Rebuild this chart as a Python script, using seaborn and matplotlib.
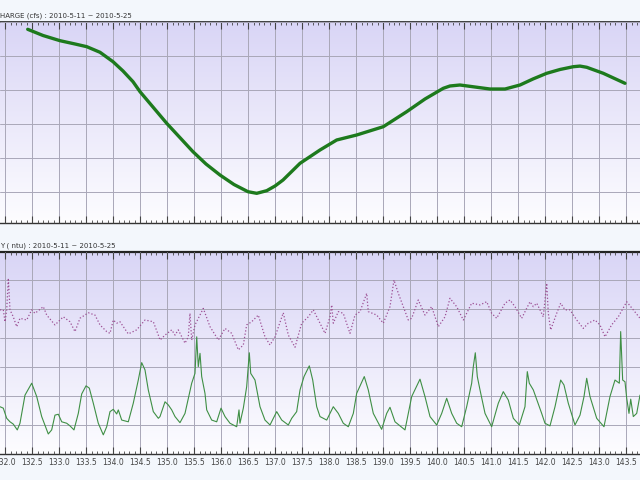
import numpy as np
import pandas as pd
import matplotlib
matplotlib.use('Agg')
import matplotlib.pyplot as plt
from matplotlib.colors import LinearSegmentedColormap
from matplotlib.ticker import MultipleLocator, FormatStrFormatter
import seaborn as sns

# 流量 (上图)
q_day = [132.415, 132.698, 133.013, 133.291, 133.508, 133.754, 133.995, 134.18, 134.365, 134.495,
         134.989, 135.476, 135.717, 135.976, 136.235, 136.495, 136.656, 136.841, 136.995, 137.143,
         137.458, 137.828, 138.137, 138.507, 139.0, 139.433, 139.772, 140.111, 140.235, 140.42,
         140.976, 141.254, 141.532, 141.772, 142.026, 142.272, 142.519, 142.643, 142.767, 143.074,
         143.476]
q_cfs = [1678.5, 1660.3, 1645.0, 1635.3, 1627.4, 1610.9, 1583.2, 1555.9, 1524.4, 1495.0,
         1402.1, 1318.5, 1282.4, 1250.0, 1222.1, 1200.9, 1196.2, 1203.9, 1217.7, 1235.3,
         1284.4, 1323.6, 1353.0, 1367.7, 1392.1, 1436.2, 1473.5, 1505.0, 1511.8, 1514.7,
         1502.9, 1502.9, 1514.7, 1532.4, 1549.1, 1560.3, 1568.5, 1570.3, 1566.8, 1549.1,
         1519.7]

# 浊度 (下图) 绿色实线
g_day = [131.902, 131.963, 132.026, 132.087, 132.148, 132.222, 132.272, 132.365, 132.489, 132.582,
         132.674, 132.796, 132.859, 132.92, 132.982, 133.045, 133.137, 133.198, 133.272, 133.352,
         133.415, 133.495, 133.556, 133.63, 133.722, 133.815, 133.878, 133.939, 134.0, 134.063,
         134.093, 134.156, 134.278, 134.37, 134.463, 134.526, 134.587, 134.648, 134.741, 134.834,
         134.865, 134.958, 135.019, 135.082, 135.143, 135.235, 135.328, 135.452, 135.513, 135.545,
         135.574, 135.606, 135.637, 135.698, 135.73, 135.822, 135.915, 135.995, 136.069, 136.161,
         136.285, 136.328, 136.346, 136.408, 136.47, 136.519, 136.545, 136.624, 136.717, 136.809,
         136.902, 137.026, 137.119, 137.241, 137.304, 137.396, 137.458, 137.532, 137.63, 137.693,
         137.767, 137.828, 137.952, 138.074, 138.167, 138.259, 138.352, 138.445, 138.507, 138.648,
         138.722, 138.815, 138.97, 139.063, 139.124, 139.217, 139.402, 139.526, 139.68, 139.772,
         139.865, 139.989, 140.082, 140.174, 140.267, 140.359, 140.452, 140.544, 140.637, 140.667,
         140.704, 140.741, 140.791, 140.884, 141.007, 141.13, 141.222, 141.315, 141.408, 141.519,
         141.624, 141.667, 141.704, 141.778, 141.933, 141.994, 142.087, 142.18, 142.285, 142.346,
         142.426, 142.55, 142.643, 142.717, 142.767, 142.828, 142.952, 143.087, 143.198, 143.291,
         143.371, 143.396, 143.433, 143.476, 143.508, 143.55, 143.582, 143.63, 143.693, 143.754]
g_ntu = [16.3, 15.8, 12.3, 11.1, 10.3, 8.3, 10.6, 20.3, 24.4, 19.8,
         12.9, 6.9, 8.3, 13.4, 13.7, 11.1, 10.6, 9.7, 8.3, 14.0,
         20.7, 23.5, 22.7, 17.5, 10.6, 6.6, 9.4, 14.6, 15.4, 13.8,
         15.2, 11.7, 11.1, 17.5, 25.5, 31.5, 29.0, 22.1, 14.6, 12.3,
         12.9, 18.0, 16.9, 15.2, 12.9, 10.8, 14.0, 24.4, 27.8, 40.4,
         30.1, 34.7, 26.7, 20.9, 15.2, 11.7, 11.1, 15.8, 12.9, 10.6,
         9.4, 15.2, 10.6, 15.8, 23.2, 34.9, 27.8, 25.5, 16.3, 11.7,
         10.0, 14.6, 11.7, 10.0, 12.3, 14.6, 22.1, 26.7, 30.4, 25.5,
         16.3, 12.9, 11.7, 16.3, 14.0, 10.6, 9.4, 14.0, 20.9, 26.7,
         22.1, 14.0, 8.5, 14.0, 16.1, 11.1, 8.3, 19.8, 25.8, 19.8,
         12.9, 10.0, 14.0, 19.2, 14.0, 10.6, 9.4, 16.3, 24.4, 30.1,
         34.9, 26.7, 22.1, 14.0, 9.4, 17.5, 21.5, 18.6, 12.3, 10.0,
         16.3, 28.4, 24.4, 22.1, 14.0, 10.6, 9.7, 16.3, 25.5, 23.8,
         17.5, 10.0, 13.4, 19.8, 26.1, 19.8, 12.3, 9.4, 19.8, 25.5,
         24.4, 42.2, 25.5, 24.9, 19.2, 14.0, 18.9, 12.9, 14.0, 20.3]

# 浊度 (下图) 紫色虚线
p_day = [131.902, 131.963, 131.995, 132.026, 132.056, 132.087, 132.148, 132.211, 132.272, 132.396,
         132.489, 132.55, 132.704, 132.767, 132.92, 133.074, 133.198, 133.291, 133.383, 133.537,
         133.661, 133.754, 133.878, 133.939, 134.0, 134.063, 134.124, 134.278, 134.433, 134.587,
         134.741, 134.834, 134.865, 134.958, 135.082, 135.143, 135.204, 135.328, 135.389, 135.42,
         135.452, 135.513, 135.667, 135.791, 135.945, 136.069, 136.193, 136.315, 136.408, 136.47,
         136.563, 136.685, 136.809, 136.902, 136.995, 137.148, 137.241, 137.365, 137.489, 137.611,
         137.704, 137.828, 137.921, 138.013, 138.045, 138.074, 138.167, 138.259, 138.383, 138.476,
         138.569, 138.693, 138.722, 138.878, 139.0, 139.124, 139.198, 139.278, 139.463, 139.526,
         139.648, 139.772, 139.896, 140.019, 140.143, 140.235, 140.359, 140.482, 140.637, 140.791,
         140.915, 141.007, 141.1, 141.254, 141.346, 141.439, 141.563, 141.717, 141.778, 141.841,
         141.902, 141.963, 142.026, 142.056, 142.1, 142.211, 142.285, 142.365, 142.457, 142.582,
         142.704, 142.796, 142.92, 143.013, 143.106, 143.228, 143.352, 143.508, 143.63, 143.754]
p_ntu = [49.7, 49.7, 45.6, 49.7, 60.6, 49.7, 47.3, 43.9, 46.8, 46.2,
         49.7, 48.5, 50.8, 47.9, 44.5, 47.3, 45.6, 42.2, 46.8, 48.7,
         47.9, 44.5, 42.2, 41.6, 46.2, 45.1, 45.6, 41.4, 42.8, 46.2,
         45.6, 41.0, 39.3, 41.0, 42.8, 41.0, 42.8, 38.2, 40.4, 48.5,
         39.3, 44.5, 50.2, 43.9, 39.3, 43.3, 41.6, 35.9, 37.6, 44.5,
         45.6, 47.9, 40.4, 37.6, 40.4, 48.7, 41.0, 36.8, 45.1, 47.3,
         49.7, 45.1, 41.6, 47.3, 51.4, 45.1, 49.1, 48.5, 41.6, 47.9,
         49.1, 55.4, 49.1, 47.9, 45.1, 50.8, 60.0, 55.4, 46.2, 46.8,
         53.1, 47.9, 50.8, 43.9, 47.3, 53.7, 50.8, 46.2, 52.0, 51.4,
         52.5, 48.5, 46.8, 52.0, 53.1, 50.8, 46.8, 52.5, 50.8, 52.0,
         49.7, 47.3, 58.9, 48.5, 42.8, 48.5, 52.0, 49.7, 49.7, 46.2,
         43.3, 45.1, 46.2, 44.5, 40.4, 44.5, 47.3, 52.5, 49.7, 46.8]

top_title = 'HARGE (cfs) : 2010-5-11 ~ 2010-5-25'
bottom_title = 'Y ( ntu) : 2010-5-11 ~ 2010-5-25'

sns.set_theme(style='white')
plt.rcParams['font.family'] = ['DejaVu Sans']

fig = plt.figure(figsize=(6.4, 4.8), dpi=100)
fig.patch.set_facecolor('#f3f7fc')

ax1 = fig.add_axes([0.0, 0.5354, 1.0, 0.4188])
ax2 = fig.add_axes([0.0, 0.0542, 1.0, 0.4208])

# 背景渐变
grad_cmap = LinearSegmentedColormap.from_list('bg', ['#fdfdff', '#d9d5f6'])
grad = np.linspace(0, 1, 256).reshape(-1, 1)
for ax in (ax1, ax2):
    ax.imshow(grad, extent=[0, 1, 0, 1], transform=ax.transAxes, aspect='auto',
              cmap=grad_cmap, origin='lower', zorder=0)

q_df = pd.DataFrame({'day': q_day, 'cfs': q_cfs})
g_df = pd.DataFrame({'day': g_day, 'ntu': g_ntu})
p_df = pd.DataFrame({'day': p_day, 'ntu': p_ntu})

sns.lineplot(data=q_df, x='day', y='cfs', ax=ax1, color='#1d7a1d', lw=2.4, zorder=3)
sns.lineplot(data=p_df, x='day', y='ntu', ax=ax2, color='#9c4f94', lw=0.9, ls=':', zorder=3)
sns.lineplot(data=g_df, x='day', y='ntu', ax=ax2, color='#3f8f45', lw=0.8, zorder=3)

ax1.set_ylim(1108.9, 1700)
ax1.yaxis.set_major_locator(MultipleLocator(100))
ax2.set_ylim(0, 69.65)
ax2.yaxis.set_major_locator(MultipleLocator(10))

for ax in (ax1, ax2):
    ax.set_xlim(131.902, 143.754)
    ax.xaxis.set_major_locator(MultipleLocator(0.5))
    ax.xaxis.set_minor_locator(MultipleLocator(0.1))
    ax.grid(True, which='major', color='#a9a7b8', lw=0.7, zorder=1)
    ax.set_axisbelow(False)
    ax.set_xlabel('')
    ax.set_ylabel('')
    ax.tick_params(axis='x', which='both', direction='in', top=True, bottom=True,
                   colors='#444444', labelsize=5.5, pad=3)
    ax.tick_params(axis='x', which='major', length=5, width=0.8)
    ax.tick_params(axis='x', which='minor', length=2.5, width=0.6)
    ax.tick_params(axis='y', left=False, right=False, labelleft=False)
    for s in ('left', 'right'):
        ax.spines[s].set_visible(False)
    ax.spines['top'].set_color('#222222')
    ax.spines['bottom'].set_color('#333333')
    ax.spines['bottom'].set_linewidth(1.0)

ax1.spines['top'].set_linewidth(1.2)
ax2.spines['top'].set_linewidth(1.6)
ax1.tick_params(axis='x', labelbottom=False)
ax2.xaxis.set_major_formatter(FormatStrFormatter('%.1f'))

fig.text(0.0, 1 - 16 / 480, top_title, fontsize=5, color='#333333', va='center', ha='left')
fig.text(0.0, 1 - 246 / 480, bottom_title, fontsize=5, color='#333333', va='center', ha='left')

fig.savefig('out.png', dpi=100, facecolor=fig.get_facecolor())
